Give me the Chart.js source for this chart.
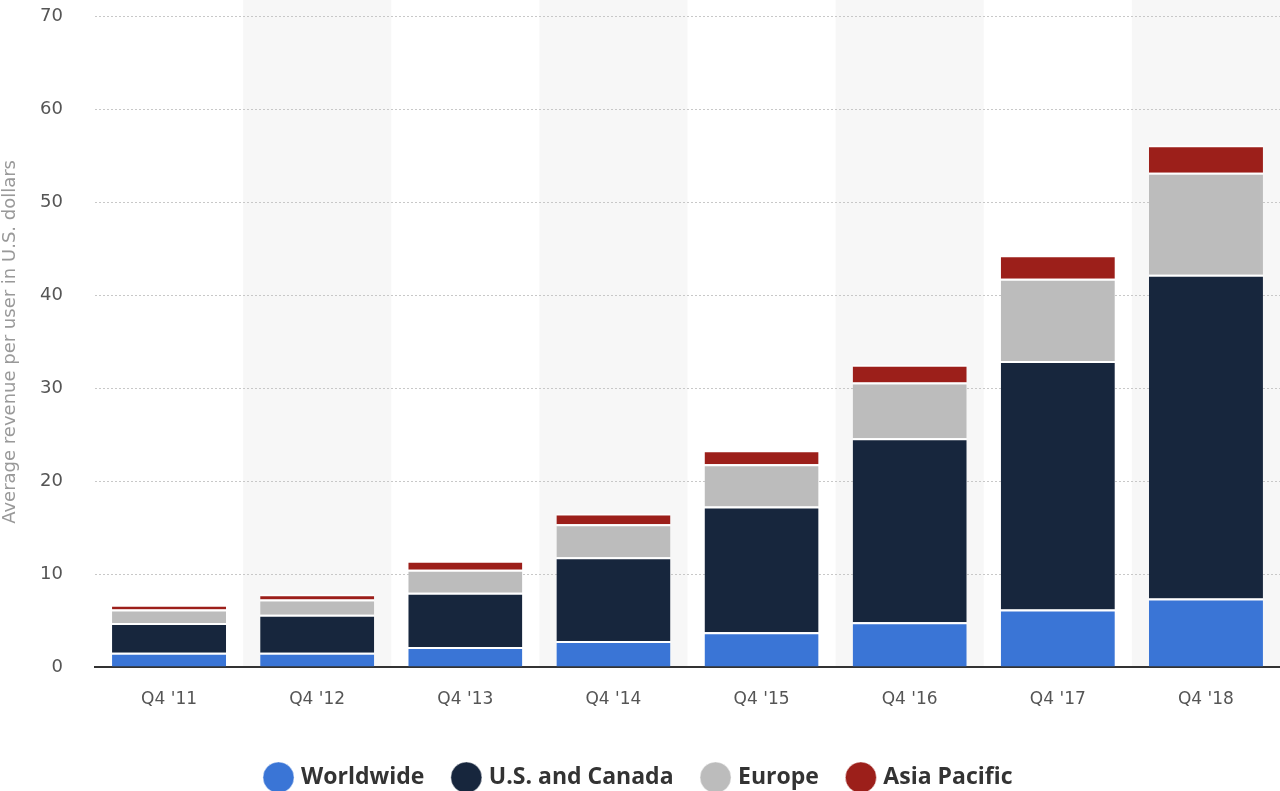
<!DOCTYPE html>
<html>
<head>
<meta charset="utf-8">
<script src="https://cdn.jsdelivr.net/npm/chart.js@4"></script>
<style>
  html, body { margin: 0; padding: 0; background: #fff; overflow: hidden; }
  #outer { width: 1280px; height: 791px; overflow: hidden; position: relative; }
  #wrap { width: 1280px; height: 817px; position: absolute; left: 0; top: -26px; }
</style>
</head>
<body>
<div id="outer"><div id="wrap"><canvas id="mycanvas"></canvas></div></div>
<script>
var quarters = ["Q4 '11", "Q4 '12", "Q4 '13", "Q4 '14", "Q4 '15", "Q4 '16", "Q4 '17", "Q4 '18"];
var worldwide = [1.54, 1.54, 2.14, 2.81, 3.73, 4.83, 6.18, 7.37];
var usCanada = [3.20, 4.08, 5.85, 9.00, 13.54, 19.81, 26.76, 34.86];
var europe = [1.46, 1.65, 2.47, 3.56, 4.56, 5.98, 8.86, 10.98];
var asiaPacific = [0.50, 0.56, 0.98, 1.16, 1.51, 1.91, 2.54, 2.96];
var yTicks = [0, 10, 20, 30, 40, 50, 60, 70];

// light bands behind every second category
var bandPlugin = {
	id: 'bands',
	beforeDraw: function(chart){
		var ctx = chart.ctx, x = chart.scales.x, area = chart.chartArea;
		var step = x.getPixelForValue(1) - x.getPixelForValue(0);
		ctx.save();
		ctx.fillStyle = "#f7f7f7";
		for (var i = 1; i < quarters.length; i += 2) {
			var c = x.getPixelForValue(i);
			ctx.fillRect(c - step / 2, 0, step, area.bottom);
		}
		ctx.restore();
	}
};

function ds(label, data, color){
	return {
		label: label,
		data: data,
		backgroundColor: color,
		borderColor: "#ffffff",
		borderWidth: {top: 2, bottom: 0, left: 0, right: 0},
		borderSkipped: false,
		categoryPercentage: 0.77,
		barPercentage: 1.0
	};
}

var chartdata = {
	labels: quarters,
	datasets: [
		ds("Worldwide", worldwide, "#3a75d6"),
		ds("U.S. and Canada", usCanada, "#17263d"),
		ds("Europe", europe, "#bcbcbc"),
		ds("Asia Pacific", asiaPacific, "#9c1f1a")
	]
};

var ctx = document.getElementById("mycanvas");
var myChart = new Chart(ctx, {
	type: 'bar',
	data: chartdata,
	plugins: [bandPlugin],
	options: {
		responsive: true,
		maintainAspectRatio: false,
		animation: false,
		layout: { padding: { top: 0, right: 0, left: 0, bottom: -8 } },
		plugins: {
			tooltip: { enabled: false },
			legend: {
				position: 'bottom',
				labels: {
					usePointStyle: true,
					pointStyle: 'circle',
					boxWidth: 22,
					boxHeight: 22,
					padding: 31,
					color: "#333333",
					font: { family: "'Open Sans', sans-serif", size: 23, weight: 'bold' }
				}
			}
		},
		scales: {
			x: {
				stacked: true,
				grid: { display: false },
				border: { display: true, color: "#333333", width: 2 },
				ticks: {
					color: "#555555",
					padding: 14,
					font: { family: "'DejaVu Sans', sans-serif", size: 17 }
				},
				afterFit: function(scale){ scale.height = 68; }
			},
			y: {
				stacked: true,
				min: 0,
				max: 70,
				afterBuildTicks: function(scale){
					scale.ticks = yTicks.map(function(v){ return {value: v}; });
				},
				grid: {
					color: "#c8c8c8",
					lineWidth: 1,
					drawTicks: false
				},
				border: { display: false, dash: [2, 2] },
				ticks: {
					color: "#555555",
					padding: 32,
					font: { family: "'DejaVu Sans', sans-serif", size: 18 }
				},
				title: {
					display: true,
					text: "Average revenue per user in U.S. dollars",
					color: "#999999",
					padding: { top: 0, bottom: 0 },
					font: { family: "'DejaVu Sans', sans-serif", size: 18 }
				},
				afterFit: function(scale){ scale.width = 95; }
			}
		}
	}
});
</script>
</body>
</html>
